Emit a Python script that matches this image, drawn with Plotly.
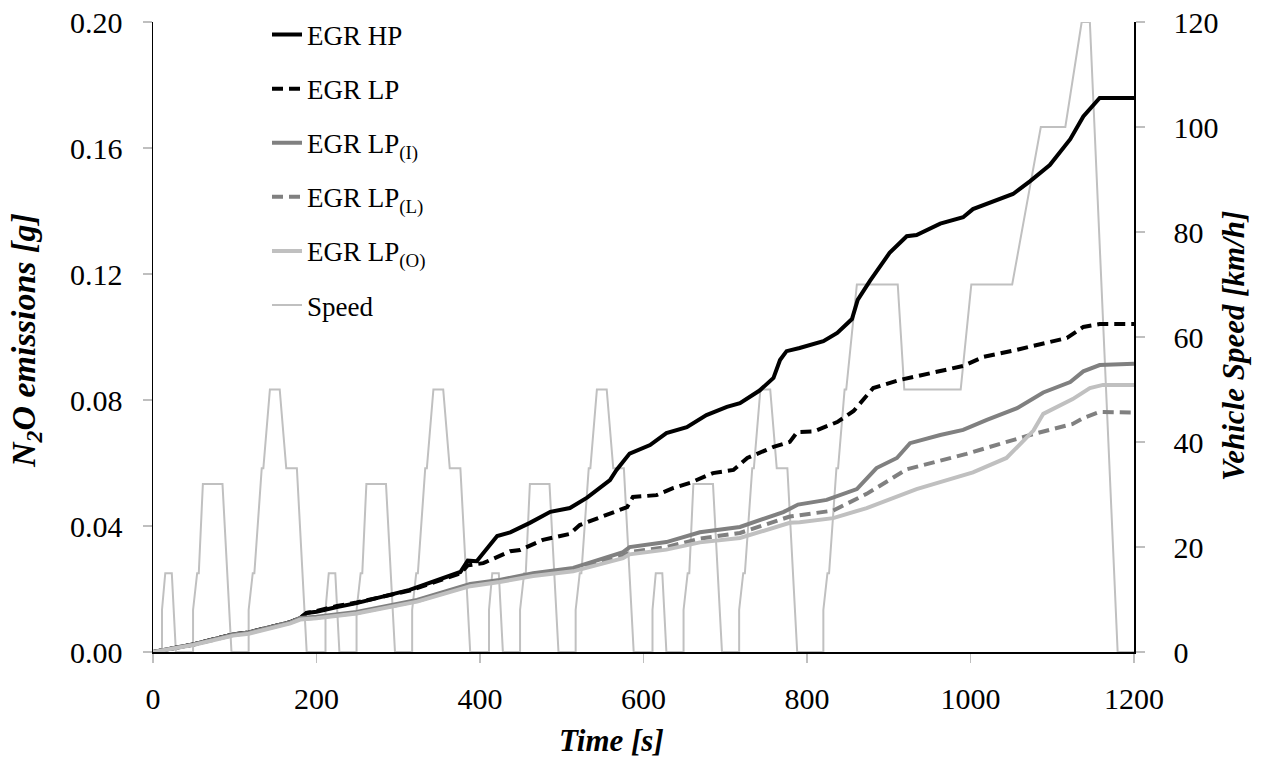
import plotly.graph_objects as go

# ---------------- data ----------------
speed_t = [0, 11, 11, 15, 23, 28, 49, 49, 54, 56, 61, 85, 96, 117, 117, 122, 124, 133, 135, 143, 155, 163, 176, 188,
           200, 211, 211, 215, 223, 228, 249, 249, 254, 256, 261, 285, 296, 317, 317, 322, 324, 333, 335, 343, 355, 363, 376, 388,
           400, 411, 411, 415, 423, 428, 449, 449, 454, 456, 461, 485, 496, 517, 517, 522, 524, 533, 535, 543, 555, 563, 576, 588,
           600, 611, 611, 615, 623, 628, 649, 649, 654, 656, 661, 685, 696, 717, 717, 722, 724, 733, 735, 743, 755, 763, 776, 788,
           800, 820, 820, 825, 827, 836, 838, 846, 848, 861, 911, 919, 988, 1001, 1051, 1086, 1116, 1136, 1146, 1180, 1200]
speed_v = [0, 0, 8, 15, 15, 0, 0, 8, 15, 15, 32, 32, 0, 0, 8, 15, 15, 35, 35, 50, 50, 35, 35, 0,
           0, 0, 8, 15, 15, 0, 0, 8, 15, 15, 32, 32, 0, 0, 8, 15, 15, 35, 35, 50, 50, 35, 35, 0,
           0, 0, 8, 15, 15, 0, 0, 8, 15, 15, 32, 32, 0, 0, 8, 15, 15, 35, 35, 50, 50, 35, 35, 0,
           0, 0, 8, 15, 15, 0, 0, 8, 15, 15, 32, 32, 0, 0, 8, 15, 15, 35, 35, 50, 50, 35, 35, 0,
           0, 0, 8, 15, 15, 35, 35, 50, 50, 70, 70, 50, 50, 70, 70, 100, 100, 120, 120, 0, 0]

hp_t = [0, 49, 98, 117, 168, 180, 188, 200, 225, 249, 314, 376, 385, 396, 421, 437, 461, 486, 510, 531, 559, 567,
        583, 608, 628, 653, 677, 702, 718, 742, 759, 767, 775, 791, 820, 837, 855, 862, 877, 901, 922, 934, 963,
        991, 1003, 1052, 1073, 1097, 1122, 1138, 1158, 1200]
hp_v = [0, 0.0024, 0.0056, 0.0062, 0.0095, 0.0108, 0.0124, 0.0128, 0.0143, 0.0155, 0.0197, 0.0254, 0.0290, 0.0288,
        0.0368, 0.0380, 0.0410, 0.0445, 0.0457, 0.0490, 0.0546, 0.0578, 0.0630, 0.0657, 0.0695, 0.0714, 0.0752,
        0.0778, 0.0790, 0.0830, 0.0870, 0.0927, 0.0955, 0.0965, 0.0987, 0.1013, 0.1057, 0.1118, 0.1178, 0.1267,
        0.1320, 0.1324, 0.1360, 0.1380, 0.1406, 0.1454, 0.1495, 0.1546, 0.1628, 0.1700, 0.1759, 0.1759]

lp_t = [0, 49, 98, 117, 168, 180, 188, 200, 225, 249, 314, 376, 385, 404, 437, 449, 477, 510, 522, 559, 580, 587,
        616, 636, 657, 685, 710, 727, 759, 779, 788, 808, 837, 857, 881, 914, 954, 991, 1016, 1056, 1118, 1138,
        1158, 1200]
lp_v = [0, 0.0024, 0.0056, 0.0062, 0.0095, 0.0108, 0.0124, 0.0130, 0.0146, 0.0157, 0.0195, 0.0250, 0.0275, 0.0282,
        0.0320, 0.0324, 0.0356, 0.0375, 0.0403, 0.0441, 0.0460, 0.0492, 0.0498, 0.0520, 0.0537, 0.0568, 0.0578,
        0.0616, 0.0651, 0.0667, 0.0698, 0.0700, 0.0730, 0.0765, 0.0838, 0.0864, 0.0886, 0.0908, 0.0937, 0.0959,
        0.0997, 0.1032, 0.1041, 0.1041]

lpi_t = [0, 49, 98, 117, 168, 180, 200, 249, 323, 388, 424, 465, 514, 575, 583, 628, 669, 718, 771, 789, 824, 861,
         885, 910, 926, 963, 991, 1020, 1057, 1089, 1122, 1138, 1158, 1200]
lpi_v = [0, 0.0024, 0.0056, 0.0062, 0.0095, 0.0108, 0.0112, 0.0127, 0.0165, 0.0216, 0.0229, 0.0250, 0.0267, 0.0317,
         0.0333, 0.0349, 0.0380, 0.0397, 0.0444, 0.0468, 0.0483, 0.0517, 0.0584, 0.0616, 0.0663, 0.0689, 0.0705,
         0.0737, 0.0774, 0.0824, 0.0857, 0.0891, 0.0911, 0.0915]

lpl_t = [0, 49, 98, 117, 168, 180, 200, 249, 323, 388, 424, 465, 514, 575, 583, 628, 669, 718, 779, 791, 832, 873,
         922, 995, 1077, 1125, 1138, 1158, 1200]
lpl_v = [0, 0.0023, 0.0054, 0.0060, 0.0093, 0.0105, 0.0109, 0.0124, 0.0162, 0.0212, 0.0225, 0.0244, 0.0260, 0.0305,
         0.0317, 0.0333, 0.0360, 0.0378, 0.0430, 0.0435, 0.0449, 0.0502, 0.0580, 0.0629, 0.0692, 0.0724, 0.0743,
         0.0762, 0.0760]

lpo_t = [0, 49, 98, 117, 168, 180, 200, 249, 323, 388, 424, 465, 514, 575, 583, 628, 669, 718, 779, 791, 832, 873,
         934, 1003, 1044, 1077, 1089, 1125, 1146, 1162, 1200]
lpo_v = [0, 0.0022, 0.0052, 0.0058, 0.0091, 0.0103, 0.0107, 0.0122, 0.0160, 0.0209, 0.0222, 0.0241, 0.0256, 0.0298,
         0.0310, 0.0325, 0.0348, 0.0362, 0.0410, 0.0412, 0.0425, 0.0457, 0.0517, 0.0570, 0.0616, 0.0703, 0.0756,
         0.0803, 0.0838, 0.0848, 0.0848]

x_ticks = [0, 200, 400, 600, 800, 1000, 1200]
y_ticks = [0.00, 0.04, 0.08, 0.12, 0.16, 0.20]
y2_ticks = [0, 20, 40, 60, 80, 100, 120]

series = [
    ("EGR HP", hp_t, hp_v, "#000000", "solid"),
    ("EGR LP", lp_t, lp_v, "#000000", "11px,6px"),
    ("EGR LP<sub>(I)</sub>", lpi_t, lpi_v, "#808080", "solid"),
    ("EGR LP<sub>(L)</sub>", lpl_t, lpl_v, "#808080", "11px,6px"),
    ("EGR LP<sub>(O)</sub>", lpo_t, lpo_v, "#c0c0c0", "solid"),
]

FONT = "Liberation Serif"

fig = go.Figure()
for i, (name, t, v, col, dash) in enumerate(series):
    fig.add_trace(go.Scatter(x=t, y=v, name=name, mode="lines", yaxis="y2",
                             legendgroup=f"g{i}",
                             line=dict(color=col, width=4, dash=dash)))
fig.add_trace(go.Scatter(x=speed_t, y=speed_v, name="Speed", mode="lines", yaxis="y",
                         legendgroup="g9",
                         line=dict(color="#c0c0c0", width=2)))

axis_common = dict(showgrid=False, zeroline=False, showline=True, linecolor="#000000", linewidth=1.5,
                   ticks="outside", ticklen=9, tickcolor="#bfbfbf", tickwidth=1.5, automargin=False,
                   ticklabeloverflow="allow",
                   tickfont=dict(family=FONT, size=30, color="#000000"))

fig.update_layout(
    width=1262, height=765,
    margin=dict(l=153, r=128, t=22, b=113, autoexpand=False),
    paper_bgcolor="white", plot_bgcolor="white",
    font=dict(family=FONT, color="#000000"),
    xaxis=dict(range=[0, 1200], tickvals=x_ticks, ticklabelstandoff=10, **axis_common),
    yaxis=dict(range=[0, 120], tickvals=y2_ticks, side="right", ticklabelstandoff=23, **axis_common),
    yaxis2=dict(range=[0, 0.2], tickvals=y_ticks, tickformat=".2f", side="left", overlaying="y",
                ticklabelstandoff=14, **axis_common),
    showlegend=True,
    legend=dict(x=(267 - 153) / 981, y=(652 - 10.5) / 630, xanchor="left", yanchor="top",
                bgcolor="rgba(0,0,0,0)", borderwidth=0, tracegroupgap=16, traceorder="grouped",
                font=dict(family=FONT, size=27, color="#000000")),
    annotations=[
        dict(text="Time [s]", x=(611 - 153) / 981, y=(652 - 740) / 630, xref="paper", yref="paper",
             showarrow=False, xanchor="center", yanchor="middle",
             font=dict(family=FONT, size=31, weight="bold", style="italic")),
        dict(text="N<sub>2</sub>O emissions [g]", x=(26 - 153) / 981, y=(652 - 341) / 630,
             xref="paper", yref="paper", showarrow=False, textangle=-90,
             xanchor="center", yanchor="middle",
             font=dict(family=FONT, size=34, weight="bold", style="italic")),
        dict(text="Vehicle Speed [km/h]", x=(1234 - 153) / 981, y=(652 - 346) / 630,
             xref="paper", yref="paper", showarrow=False, textangle=-90,
             xanchor="center", yanchor="middle",
             font=dict(family=FONT, size=31, weight="bold", style="italic")),
    ],
)

# remove the default 8px page margin so the figure fills the window exactly
fig.write_html("out.html", config={"displayModeBar": False, "staticPlot": True},
               post_script="document.body.style.margin='0';")
